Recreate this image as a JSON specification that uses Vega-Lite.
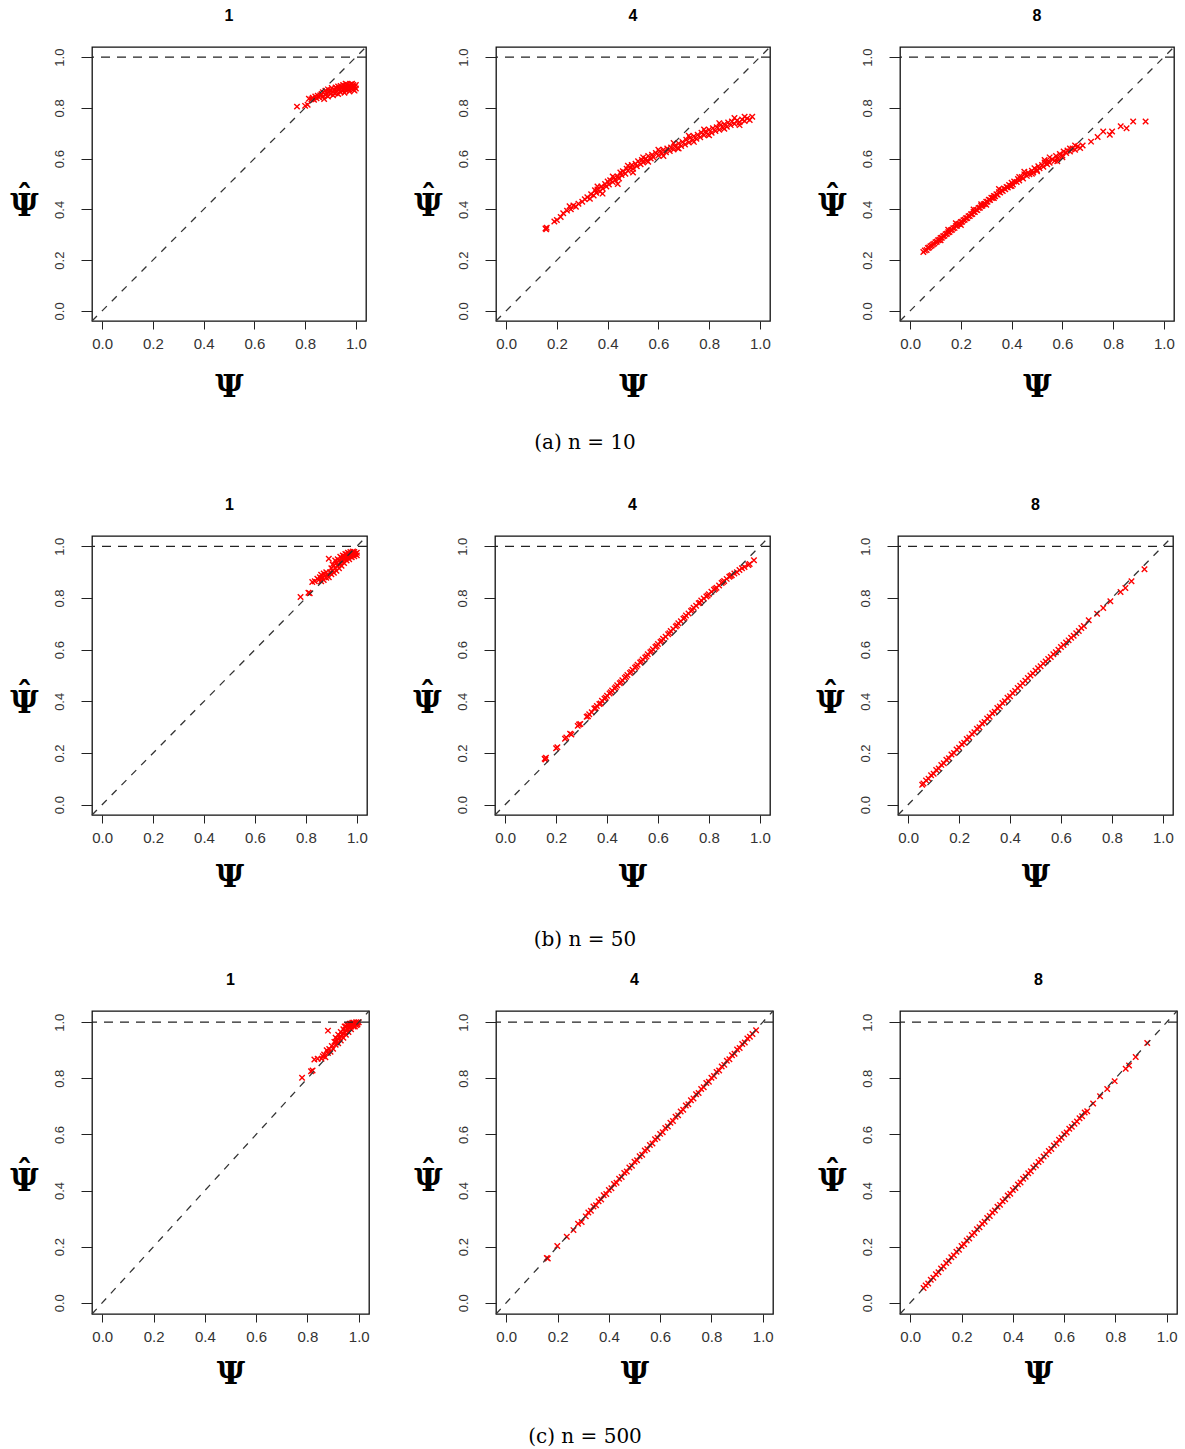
{
"$schema":"https://vega.github.io/schema/vega-lite/v6.json",
"padding":{"left":9,"top":7,"right":0,"bottom":0},
"spacing":0,
"datasets":{
"diag":[{"x":-0.04,"y":-0.04},{"x":1.04,"y":1.04}],
"hline":[{"y":1}],
"capA":[{"caption":"(a)  n = 10"}],
"capB":[{"caption":"(b)  n = 50"}],
"capC":[{"caption":"(c)  n = 500"}],
"a1":[{"x":0.768,"y":0.805},{"x":0.8,"y":0.808},{"x":0.81,"y":0.812},{"x":0.815,"y":0.836},{"x":0.825,"y":0.834},{"x":0.83,"y":0.84},{"x":0.835,"y":0.832},{"x":0.84,"y":0.845},{"x":0.845,"y":0.838},{"x":0.85,"y":0.848},{"x":0.855,"y":0.842},{"x":0.86,"y":0.85},{"x":0.865,"y":0.855},{"x":0.87,"y":0.845},{"x":0.87,"y":0.862},{"x":0.875,"y":0.835},{"x":0.88,"y":0.852},{"x":0.88,"y":0.868},{"x":0.885,"y":0.858},{"x":0.89,"y":0.873},{"x":0.89,"y":0.845},{"x":0.895,"y":0.862},{"x":0.9,"y":0.855},{"x":0.9,"y":0.87},{"x":0.905,"y":0.878},{"x":0.91,"y":0.862},{"x":0.91,"y":0.85},{"x":0.915,"y":0.872},{"x":0.92,"y":0.88},{"x":0.92,"y":0.858},{"x":0.925,"y":0.867},{"x":0.93,"y":0.884},{"x":0.93,"y":0.855},{"x":0.935,"y":0.874},{"x":0.94,"y":0.862},{"x":0.94,"y":0.886},{"x":0.945,"y":0.878},{"x":0.95,"y":0.868},{"x":0.95,"y":0.89},{"x":0.955,"y":0.877},{"x":0.96,"y":0.885},{"x":0.96,"y":0.87},{"x":0.965,"y":0.892},{"x":0.97,"y":0.88},{"x":0.97,"y":0.872},{"x":0.975,"y":0.888},{"x":0.98,"y":0.876},{"x":0.98,"y":0.893},{"x":0.985,"y":0.884},{"x":0.99,"y":0.872},{"x":0.99,"y":0.89},{"x":0.995,"y":0.882},{"x":1.0,"y":0.876},{"x":1.0,"y":0.89},{"x":0.995,"y":0.868},{"x":0.975,"y":0.865},{"x":0.955,"y":0.86},{"x":0.925,"y":0.876},{"x":0.96,"y":0.895},{"x":0.985,"y":0.895}],
"a4":[{"x":0.155,"y":0.325},{"x":0.16,"y":0.328},{"x":0.158,"y":0.322},{"x":0.19,"y":0.352},{"x":0.2,"y":0.358},{"x":0.215,"y":0.37},{"x":0.225,"y":0.385},{"x":0.24,"y":0.395},{"x":0.25,"y":0.412},{"x":0.255,"y":0.4},{"x":0.265,"y":0.415},{"x":0.275,"y":0.41},{"x":0.285,"y":0.422},{"x":0.3,"y":0.43},{"x":0.31,"y":0.44},{"x":0.32,"y":0.448},{"x":0.33,"y":0.442},{"x":0.335,"y":0.46},{"x":0.345,"y":0.455},{"x":0.35,"y":0.475},{"x":0.355,"y":0.465},{"x":0.36,"y":0.478},{"x":0.37,"y":0.47},{"x":0.375,"y":0.49},{"x":0.38,"y":0.482},{"x":0.39,"y":0.5},{"x":0.395,"y":0.49},{"x":0.4,"y":0.51},{"x":0.405,"y":0.498},{"x":0.41,"y":0.515},{"x":0.42,"y":0.508},{"x":0.425,"y":0.525},{"x":0.43,"y":0.515},{"x":0.44,"y":0.53},{"x":0.445,"y":0.522},{"x":0.45,"y":0.545},{"x":0.455,"y":0.535},{"x":0.46,"y":0.55},{"x":0.47,"y":0.54},{"x":0.475,"y":0.56},{"x":0.48,"y":0.552},{"x":0.49,"y":0.565},{"x":0.495,"y":0.575},{"x":0.5,"y":0.56},{"x":0.51,"y":0.58},{"x":0.515,"y":0.57},{"x":0.52,"y":0.59},{"x":0.53,"y":0.578},{"x":0.535,"y":0.595},{"x":0.54,"y":0.585},{"x":0.55,"y":0.6},{"x":0.555,"y":0.592},{"x":0.56,"y":0.61},{"x":0.57,"y":0.6},{"x":0.575,"y":0.615},{"x":0.58,"y":0.605},{"x":0.59,"y":0.622},{"x":0.6,"y":0.612},{"x":0.605,"y":0.628},{"x":0.615,"y":0.62},{"x":0.62,"y":0.635},{"x":0.63,"y":0.625},{"x":0.635,"y":0.64},{"x":0.645,"y":0.63},{"x":0.65,"y":0.644},{"x":0.66,"y":0.636},{"x":0.665,"y":0.65},{"x":0.675,"y":0.642},{"x":0.68,"y":0.66},{"x":0.69,"y":0.65},{"x":0.695,"y":0.666},{"x":0.705,"y":0.656},{"x":0.71,"y":0.674},{"x":0.72,"y":0.664},{"x":0.725,"y":0.682},{"x":0.735,"y":0.672},{"x":0.74,"y":0.688},{"x":0.75,"y":0.678},{"x":0.755,"y":0.694},{"x":0.765,"y":0.684},{"x":0.77,"y":0.702},{"x":0.78,"y":0.692},{"x":0.785,"y":0.706},{"x":0.795,"y":0.696},{"x":0.8,"y":0.714},{"x":0.81,"y":0.702},{"x":0.815,"y":0.72},{"x":0.825,"y":0.709},{"x":0.83,"y":0.724},{"x":0.84,"y":0.714},{"x":0.845,"y":0.732},{"x":0.855,"y":0.722},{"x":0.86,"y":0.736},{"x":0.87,"y":0.726},{"x":0.875,"y":0.742},{"x":0.885,"y":0.732},{"x":0.89,"y":0.746},{"x":0.9,"y":0.737},{"x":0.91,"y":0.75},{"x":0.92,"y":0.743},{"x":0.93,"y":0.754},{"x":0.94,"y":0.748},{"x":0.95,"y":0.758},{"x":0.96,"y":0.752},{"x":0.97,"y":0.765},{"x":0.36,"y":0.49},{"x":0.38,"y":0.462},{"x":0.42,"y":0.53},{"x":0.44,"y":0.5},{"x":0.48,"y":0.572},{"x":0.5,"y":0.545},{"x":0.54,"y":0.605},{"x":0.56,"y":0.588},{"x":0.6,"y":0.635},{"x":0.62,"y":0.61},{"x":0.66,"y":0.662},{"x":0.68,"y":0.64},{"x":0.72,"y":0.69},{"x":0.74,"y":0.666},{"x":0.78,"y":0.715},{"x":0.8,"y":0.692},{"x":0.84,"y":0.74},{"x":0.86,"y":0.718},{"x":0.9,"y":0.76},{"x":0.92,"y":0.732},{"x":0.94,"y":0.765}],
"a8":[{"x":0.052,"y":0.232},{"x":0.058,"y":0.238},{"x":0.065,"y":0.24},{"x":0.07,"y":0.248},{"x":0.075,"y":0.25},{"x":0.08,"y":0.255},{"x":0.085,"y":0.258},{"x":0.09,"y":0.262},{"x":0.095,"y":0.265},{"x":0.1,"y":0.27},{"x":0.105,"y":0.272},{"x":0.11,"y":0.278},{"x":0.115,"y":0.28},{"x":0.12,"y":0.287},{"x":0.125,"y":0.288},{"x":0.13,"y":0.294},{"x":0.135,"y":0.296},{"x":0.14,"y":0.302},{"x":0.145,"y":0.304},{"x":0.15,"y":0.31},{"x":0.155,"y":0.311},{"x":0.16,"y":0.318},{"x":0.165,"y":0.32},{"x":0.17,"y":0.326},{"x":0.175,"y":0.327},{"x":0.18,"y":0.334},{"x":0.185,"y":0.335},{"x":0.19,"y":0.342},{"x":0.195,"y":0.343},{"x":0.2,"y":0.35},{"x":0.205,"y":0.351},{"x":0.21,"y":0.357},{"x":0.215,"y":0.359},{"x":0.22,"y":0.365},{"x":0.225,"y":0.366},{"x":0.23,"y":0.373},{"x":0.235,"y":0.374},{"x":0.24,"y":0.381},{"x":0.245,"y":0.382},{"x":0.25,"y":0.39},{"x":0.255,"y":0.39},{"x":0.26,"y":0.398},{"x":0.265,"y":0.397},{"x":0.27,"y":0.405},{"x":0.275,"y":0.406},{"x":0.28,"y":0.413},{"x":0.285,"y":0.414},{"x":0.29,"y":0.42},{"x":0.295,"y":0.422},{"x":0.3,"y":0.43},{"x":0.305,"y":0.43},{"x":0.31,"y":0.438},{"x":0.315,"y":0.437},{"x":0.32,"y":0.446},{"x":0.325,"y":0.445},{"x":0.33,"y":0.453},{"x":0.335,"y":0.452},{"x":0.34,"y":0.46},{"x":0.345,"y":0.458},{"x":0.35,"y":0.468},{"x":0.355,"y":0.466},{"x":0.36,"y":0.475},{"x":0.365,"y":0.472},{"x":0.37,"y":0.482},{"x":0.375,"y":0.479},{"x":0.38,"y":0.488},{"x":0.385,"y":0.486},{"x":0.39,"y":0.496},{"x":0.395,"y":0.492},{"x":0.4,"y":0.505},{"x":0.405,"y":0.498},{"x":0.41,"y":0.51},{"x":0.42,"y":0.508},{"x":0.425,"y":0.52},{"x":0.43,"y":0.514},{"x":0.44,"y":0.528},{"x":0.445,"y":0.522},{"x":0.45,"y":0.538},{"x":0.46,"y":0.532},{"x":0.465,"y":0.545},{"x":0.47,"y":0.538},{"x":0.48,"y":0.552},{"x":0.485,"y":0.545},{"x":0.49,"y":0.562},{"x":0.5,"y":0.555},{"x":0.505,"y":0.57},{"x":0.51,"y":0.562},{"x":0.52,"y":0.575},{"x":0.525,"y":0.568},{"x":0.53,"y":0.585},{"x":0.54,"y":0.578},{"x":0.545,"y":0.59},{"x":0.55,"y":0.584},{"x":0.56,"y":0.598},{"x":0.57,"y":0.592},{"x":0.575,"y":0.61},{"x":0.58,"y":0.6},{"x":0.59,"y":0.618},{"x":0.6,"y":0.612},{"x":0.605,"y":0.628},{"x":0.615,"y":0.622},{"x":0.62,"y":0.632},{"x":0.63,"y":0.628},{"x":0.64,"y":0.64},{"x":0.65,"y":0.635},{"x":0.66,"y":0.648},{"x":0.67,"y":0.642},{"x":0.68,"y":0.652},{"x":0.15,"y":0.32},{"x":0.2,"y":0.338},{"x":0.25,"y":0.4},{"x":0.3,"y":0.418},{"x":0.35,"y":0.48},{"x":0.4,"y":0.492},{"x":0.45,"y":0.548},{"x":0.5,"y":0.55},{"x":0.55,"y":0.605},{"x":0.6,"y":0.605},{"x":0.65,"y":0.652},{"x":0.12,"y":0.278},{"x":0.18,"y":0.345},{"x":0.28,"y":0.42},{"x":0.33,"y":0.445},{"x":0.43,"y":0.528},{"x":0.48,"y":0.54},{"x":0.53,"y":0.595},{"x":0.58,"y":0.59},{"x":0.63,"y":0.64},{"x":0.713,"y":0.667},{"x":0.739,"y":0.685},{"x":0.761,"y":0.707},{"x":0.787,"y":0.694},{"x":0.796,"y":0.707},{"x":0.83,"y":0.728},{"x":0.853,"y":0.72},{"x":0.879,"y":0.746},{"x":0.928,"y":0.746}],
"b1":[{"x":0.779,"y":0.804},{"x":0.81,"y":0.82},{"x":0.815,"y":0.818},{"x":0.825,"y":0.862},{"x":0.835,"y":0.865},{"x":0.845,"y":0.875},{"x":0.85,"y":0.87},{"x":0.855,"y":0.88},{"x":0.86,"y":0.865},{"x":0.86,"y":0.89},{"x":0.865,"y":0.878},{"x":0.87,"y":0.87},{"x":0.87,"y":0.895},{"x":0.875,"y":0.885},{"x":0.88,"y":0.878},{"x":0.88,"y":0.9},{"x":0.885,"y":0.89},{"x":0.89,"y":0.952},{"x":0.89,"y":0.88},{"x":0.895,"y":0.9},{"x":0.9,"y":0.892},{"x":0.9,"y":0.915},{"x":0.905,"y":0.905},{"x":0.91,"y":0.925},{"x":0.91,"y":0.898},{"x":0.915,"y":0.915},{"x":0.92,"y":0.905},{"x":0.92,"y":0.935},{"x":0.925,"y":0.925},{"x":0.93,"y":0.915},{"x":0.93,"y":0.945},{"x":0.935,"y":0.935},{"x":0.94,"y":0.925},{"x":0.94,"y":0.955},{"x":0.945,"y":0.945},{"x":0.95,"y":0.935},{"x":0.95,"y":0.962},{"x":0.955,"y":0.952},{"x":0.96,"y":0.945},{"x":0.96,"y":0.968},{"x":0.965,"y":0.958},{"x":0.97,"y":0.95},{"x":0.97,"y":0.972},{"x":0.975,"y":0.962},{"x":0.98,"y":0.958},{"x":0.98,"y":0.975},{"x":0.985,"y":0.968},{"x":0.99,"y":0.962},{"x":0.99,"y":0.978},{"x":0.995,"y":0.97},{"x":1.0,"y":0.975},{"x":1.0,"y":0.965},{"x":0.905,"y":0.93},{"x":0.915,"y":0.945},{"x":0.925,"y":0.95},{"x":0.935,"y":0.96},{"x":0.945,"y":0.965},{"x":0.955,"y":0.97},{"x":0.965,"y":0.975},{"x":0.975,"y":0.978},{"x":0.985,"y":0.98},{"x":0.95,"y":0.95},{"x":0.96,"y":0.958},{"x":0.97,"y":0.962},{"x":0.99,"y":0.97},{"x":0.94,"y":0.94},{"x":0.93,"y":0.93}],
"b4":[{"x":0.155,"y":0.178},{"x":0.16,"y":0.182},{"x":0.158,"y":0.175},{"x":0.2,"y":0.218},{"x":0.205,"y":0.222},{"x":0.235,"y":0.255},{"x":0.24,"y":0.26},{"x":0.255,"y":0.275},{"x":0.26,"y":0.272},{"x":0.285,"y":0.305},{"x":0.29,"y":0.31},{"x":0.295,"y":0.312},{"x":0.32,"y":0.34},{"x":0.325,"y":0.342},{"x":0.33,"y":0.35},{"x":0.34,"y":0.358},{"x":0.35,"y":0.372},{"x":0.355,"y":0.374},{"x":0.36,"y":0.382},{"x":0.37,"y":0.39},{"x":0.375,"y":0.392},{"x":0.38,"y":0.402},{"x":0.39,"y":0.41},{"x":0.395,"y":0.414},{"x":0.4,"y":0.422},{"x":0.41,"y":0.43},{"x":0.415,"y":0.435},{"x":0.42,"y":0.442},{"x":0.43,"y":0.45},{"x":0.435,"y":0.455},{"x":0.44,"y":0.462},{"x":0.45,"y":0.47},{"x":0.455,"y":0.474},{"x":0.46,"y":0.482},{"x":0.47,"y":0.49},{"x":0.475,"y":0.495},{"x":0.48,"y":0.502},{"x":0.49,"y":0.51},{"x":0.495,"y":0.514},{"x":0.5,"y":0.522},{"x":0.51,"y":0.53},{"x":0.515,"y":0.535},{"x":0.52,"y":0.542},{"x":0.53,"y":0.55},{"x":0.535,"y":0.554},{"x":0.54,"y":0.562},{"x":0.55,"y":0.57},{"x":0.555,"y":0.574},{"x":0.56,"y":0.582},{"x":0.57,"y":0.59},{"x":0.575,"y":0.594},{"x":0.58,"y":0.602},{"x":0.59,"y":0.61},{"x":0.595,"y":0.614},{"x":0.6,"y":0.622},{"x":0.61,"y":0.63},{"x":0.615,"y":0.634},{"x":0.62,"y":0.642},{"x":0.63,"y":0.65},{"x":0.64,"y":0.66},{"x":0.645,"y":0.664},{"x":0.65,"y":0.672},{"x":0.66,"y":0.68},{"x":0.67,"y":0.69},{"x":0.675,"y":0.694},{"x":0.68,"y":0.702},{"x":0.69,"y":0.71},{"x":0.7,"y":0.72},{"x":0.705,"y":0.724},{"x":0.71,"y":0.732},{"x":0.72,"y":0.74},{"x":0.73,"y":0.75},{"x":0.735,"y":0.754},{"x":0.74,"y":0.762},{"x":0.75,"y":0.77},{"x":0.76,"y":0.78},{"x":0.765,"y":0.782},{"x":0.77,"y":0.79},{"x":0.78,"y":0.798},{"x":0.79,"y":0.806},{"x":0.795,"y":0.81},{"x":0.8,"y":0.815},{"x":0.81,"y":0.824},{"x":0.82,"y":0.832},{"x":0.825,"y":0.836},{"x":0.83,"y":0.84},{"x":0.84,"y":0.848},{"x":0.85,"y":0.858},{"x":0.855,"y":0.862},{"x":0.86,"y":0.866},{"x":0.87,"y":0.874},{"x":0.88,"y":0.882},{"x":0.885,"y":0.885},{"x":0.89,"y":0.888},{"x":0.9,"y":0.895},{"x":0.91,"y":0.9},{"x":0.92,"y":0.908},{"x":0.93,"y":0.915},{"x":0.94,"y":0.92},{"x":0.955,"y":0.928},{"x":0.96,"y":0.932},{"x":0.977,"y":0.946}],
"b8":[{"x":0.055,"y":0.077},{"x":0.06,"y":0.082},{"x":0.07,"y":0.094},{"x":0.08,"y":0.1},{"x":0.09,"y":0.114},{"x":0.1,"y":0.12},{"x":0.11,"y":0.134},{"x":0.12,"y":0.14},{"x":0.13,"y":0.154},{"x":0.14,"y":0.16},{"x":0.15,"y":0.174},{"x":0.16,"y":0.18},{"x":0.17,"y":0.194},{"x":0.18,"y":0.2},{"x":0.19,"y":0.214},{"x":0.2,"y":0.22},{"x":0.21,"y":0.234},{"x":0.22,"y":0.24},{"x":0.23,"y":0.254},{"x":0.24,"y":0.26},{"x":0.25,"y":0.274},{"x":0.26,"y":0.28},{"x":0.27,"y":0.294},{"x":0.28,"y":0.3},{"x":0.29,"y":0.314},{"x":0.3,"y":0.32},{"x":0.31,"y":0.334},{"x":0.32,"y":0.34},{"x":0.33,"y":0.354},{"x":0.34,"y":0.36},{"x":0.35,"y":0.374},{"x":0.36,"y":0.38},{"x":0.37,"y":0.394},{"x":0.38,"y":0.4},{"x":0.39,"y":0.414},{"x":0.4,"y":0.42},{"x":0.41,"y":0.432},{"x":0.42,"y":0.44},{"x":0.43,"y":0.452},{"x":0.44,"y":0.46},{"x":0.45,"y":0.47},{"x":0.46,"y":0.48},{"x":0.47,"y":0.49},{"x":0.48,"y":0.5},{"x":0.49,"y":0.508},{"x":0.5,"y":0.518},{"x":0.51,"y":0.528},{"x":0.52,"y":0.536},{"x":0.53,"y":0.546},{"x":0.54,"y":0.554},{"x":0.55,"y":0.564},{"x":0.56,"y":0.572},{"x":0.57,"y":0.582},{"x":0.58,"y":0.59},{"x":0.59,"y":0.6},{"x":0.6,"y":0.61},{"x":0.61,"y":0.618},{"x":0.62,"y":0.628},{"x":0.63,"y":0.636},{"x":0.64,"y":0.646},{"x":0.65,"y":0.654},{"x":0.66,"y":0.664},{"x":0.67,"y":0.672},{"x":0.68,"y":0.684},{"x":0.69,"y":0.692},{"x":0.709,"y":0.714},{"x":0.742,"y":0.739},{"x":0.766,"y":0.761},{"x":0.794,"y":0.787},{"x":0.834,"y":0.823},{"x":0.853,"y":0.839},{"x":0.877,"y":0.865},{"x":0.928,"y":0.911}],
"c1":[{"x":0.779,"y":0.802},{"x":0.814,"y":0.825},{"x":0.82,"y":0.828},{"x":0.827,"y":0.867},{"x":0.84,"y":0.87},{"x":0.86,"y":0.879},{"x":0.855,"y":0.87},{"x":0.865,"y":0.885},{"x":0.87,"y":0.875},{"x":0.875,"y":0.9},{"x":0.88,"y":0.89},{"x":0.885,"y":0.905},{"x":0.89,"y":0.895},{"x":0.88,"y":0.97},{"x":0.895,"y":0.915},{"x":0.9,"y":0.905},{"x":0.905,"y":0.93},{"x":0.91,"y":0.92},{"x":0.91,"y":0.945},{"x":0.915,"y":0.935},{"x":0.92,"y":0.925},{"x":0.92,"y":0.955},{"x":0.925,"y":0.945},{"x":0.93,"y":0.935},{"x":0.93,"y":0.965},{"x":0.935,"y":0.955},{"x":0.94,"y":0.945},{"x":0.94,"y":0.975},{"x":0.945,"y":0.965},{"x":0.95,"y":0.955},{"x":0.95,"y":0.985},{"x":0.955,"y":0.975},{"x":0.96,"y":0.965},{"x":0.96,"y":0.99},{"x":0.965,"y":0.98},{"x":0.97,"y":0.975},{"x":0.97,"y":0.995},{"x":0.975,"y":0.99},{"x":0.98,"y":0.985},{"x":0.98,"y":0.998},{"x":0.985,"y":0.995},{"x":0.99,"y":0.99},{"x":0.99,"y":1.0},{"x":0.995,"y":0.998},{"x":1.0,"y":1.0},{"x":0.965,"y":0.995},{"x":0.955,"y":0.99},{"x":0.945,"y":0.985},{"x":0.975,"y":0.998},{"x":0.96,"y":0.98},{"x":0.97,"y":0.985},{"x":0.95,"y":0.97},{"x":0.94,"y":0.96},{"x":0.93,"y":0.95},{"x":0.92,"y":0.94},{"x":0.91,"y":0.93},{"x":0.985,"y":0.985},{"x":0.995,"y":0.992},{"x":0.98,"y":0.992}],
"c4":[{"x":0.158,"y":0.16},{"x":0.162,"y":0.158},{"x":0.199,"y":0.202},{"x":0.236,"y":0.235},{"x":0.262,"y":0.259},{"x":0.28,"y":0.282},{"x":0.294,"y":0.288},{"x":0.31,"y":0.308},{"x":0.32,"y":0.322},{"x":0.33,"y":0.328},{"x":0.34,"y":0.343},{"x":0.35,"y":0.348},{"x":0.36,"y":0.362},{"x":0.37,"y":0.368},{"x":0.38,"y":0.383},{"x":0.39,"y":0.388},{"x":0.4,"y":0.402},{"x":0.41,"y":0.408},{"x":0.42,"y":0.423},{"x":0.43,"y":0.428},{"x":0.44,"y":0.442},{"x":0.45,"y":0.448},{"x":0.46,"y":0.463},{"x":0.47,"y":0.468},{"x":0.48,"y":0.482},{"x":0.49,"y":0.488},{"x":0.5,"y":0.503},{"x":0.51,"y":0.508},{"x":0.52,"y":0.522},{"x":0.53,"y":0.528},{"x":0.54,"y":0.543},{"x":0.55,"y":0.548},{"x":0.56,"y":0.562},{"x":0.57,"y":0.568},{"x":0.58,"y":0.583},{"x":0.59,"y":0.588},{"x":0.6,"y":0.602},{"x":0.61,"y":0.608},{"x":0.62,"y":0.623},{"x":0.63,"y":0.628},{"x":0.64,"y":0.642},{"x":0.65,"y":0.648},{"x":0.66,"y":0.663},{"x":0.67,"y":0.668},{"x":0.68,"y":0.682},{"x":0.69,"y":0.688},{"x":0.7,"y":0.703},{"x":0.71,"y":0.708},{"x":0.72,"y":0.722},{"x":0.73,"y":0.728},{"x":0.74,"y":0.743},{"x":0.75,"y":0.748},{"x":0.76,"y":0.762},{"x":0.77,"y":0.768},{"x":0.78,"y":0.783},{"x":0.79,"y":0.788},{"x":0.8,"y":0.802},{"x":0.81,"y":0.808},{"x":0.82,"y":0.823},{"x":0.83,"y":0.828},{"x":0.84,"y":0.842},{"x":0.85,"y":0.848},{"x":0.86,"y":0.863},{"x":0.87,"y":0.868},{"x":0.88,"y":0.882},{"x":0.89,"y":0.888},{"x":0.9,"y":0.903},{"x":0.91,"y":0.908},{"x":0.92,"y":0.922},{"x":0.93,"y":0.928},{"x":0.94,"y":0.942},{"x":0.95,"y":0.948},{"x":0.96,"y":0.958},{"x":0.974,"y":0.971}],
"c8":[{"x":0.052,"y":0.053},{"x":0.06,"y":0.062},{"x":0.07,"y":0.069},{"x":0.08,"y":0.082},{"x":0.09,"y":0.089},{"x":0.1,"y":0.102},{"x":0.11,"y":0.109},{"x":0.12,"y":0.122},{"x":0.13,"y":0.129},{"x":0.14,"y":0.142},{"x":0.15,"y":0.149},{"x":0.16,"y":0.162},{"x":0.17,"y":0.169},{"x":0.18,"y":0.182},{"x":0.19,"y":0.189},{"x":0.2,"y":0.202},{"x":0.21,"y":0.209},{"x":0.22,"y":0.222},{"x":0.23,"y":0.229},{"x":0.24,"y":0.242},{"x":0.25,"y":0.249},{"x":0.26,"y":0.262},{"x":0.27,"y":0.269},{"x":0.28,"y":0.282},{"x":0.29,"y":0.289},{"x":0.3,"y":0.302},{"x":0.31,"y":0.309},{"x":0.32,"y":0.322},{"x":0.33,"y":0.329},{"x":0.34,"y":0.342},{"x":0.35,"y":0.349},{"x":0.36,"y":0.362},{"x":0.37,"y":0.369},{"x":0.38,"y":0.382},{"x":0.39,"y":0.389},{"x":0.4,"y":0.402},{"x":0.41,"y":0.409},{"x":0.42,"y":0.422},{"x":0.43,"y":0.429},{"x":0.44,"y":0.442},{"x":0.45,"y":0.449},{"x":0.46,"y":0.462},{"x":0.47,"y":0.469},{"x":0.48,"y":0.482},{"x":0.49,"y":0.489},{"x":0.5,"y":0.502},{"x":0.51,"y":0.509},{"x":0.52,"y":0.521},{"x":0.53,"y":0.529},{"x":0.54,"y":0.541},{"x":0.55,"y":0.548},{"x":0.56,"y":0.561},{"x":0.57,"y":0.568},{"x":0.58,"y":0.581},{"x":0.59,"y":0.588},{"x":0.6,"y":0.601},{"x":0.61,"y":0.607},{"x":0.62,"y":0.62},{"x":0.63,"y":0.627},{"x":0.64,"y":0.638},{"x":0.65,"y":0.646},{"x":0.66,"y":0.658},{"x":0.67,"y":0.665},{"x":0.68,"y":0.678},{"x":0.69,"y":0.683},{"x":0.713,"y":0.71},{"x":0.74,"y":0.736},{"x":0.768,"y":0.762},{"x":0.797,"y":0.79},{"x":0.84,"y":0.834},{"x":0.853,"y":0.846},{"x":0.879,"y":0.876},{"x":0.924,"y":0.926}]
},
"vconcat":[
{"hconcat":[
 {"width":274,"height":274,"title":{"text":"1"},"layer":[
  {"data":{"name":"a1"},"mark":{"type":"point","shape":"M-1,-1L1,1M-1,1L1,-1","size":30,"filled":false,"color":"#ff0000","strokeWidth":1.4,"opacity":1},"encoding":{"x":{"field":"x","type":"quantitative","scale":{"domain":[-0.04,1.04],"nice":false,"zero":false},"axis":{"values":[0,0.2,0.4,0.6,0.8,1],"format":".1f","title":"\u03a8","titleY":66}},"y":{"field":"y","type":"quantitative","scale":{"domain":[-0.04,1.04],"nice":false,"zero":false},"axis":{"values":[0,0.2,0.4,0.6,0.8,1],"format":".1f","title":["\u02c6","\u03a8"],"titleX":-68,"titleY":151}}}},
  {"data":{"name":"diag"},"mark":{"type":"line","color":"#333","strokeWidth":1.3,"strokeDash":[7,7]},"encoding":{"x":{"field":"x","type":"quantitative","title":"\u03a8"},"y":{"field":"y","type":"quantitative","title":["\u02c6","\u03a8"]}}},
  {"data":{"name":"hline"},"mark":{"type":"rule","color":"#222","strokeWidth":1.3,"strokeDash":[9,7]},"encoding":{"y":{"field":"y","type":"quantitative","title":["\u02c6","\u03a8"]}}}]},
 {"width":274,"height":274,"title":{"text":"4"},"layer":[
  {"data":{"name":"a4"},"mark":{"type":"point","shape":"M-1,-1L1,1M-1,1L1,-1","size":30,"filled":false,"color":"#ff0000","strokeWidth":1.4,"opacity":1},"encoding":{"x":{"field":"x","type":"quantitative","scale":{"domain":[-0.04,1.04],"nice":false,"zero":false},"axis":{"values":[0,0.2,0.4,0.6,0.8,1],"format":".1f","title":"\u03a8","titleY":66}},"y":{"field":"y","type":"quantitative","scale":{"domain":[-0.04,1.04],"nice":false,"zero":false},"axis":{"values":[0,0.2,0.4,0.6,0.8,1],"format":".1f","title":["\u02c6","\u03a8"],"titleX":-68,"titleY":151}}}},
  {"data":{"name":"diag"},"mark":{"type":"line","color":"#333","strokeWidth":1.3,"strokeDash":[7,7]},"encoding":{"x":{"field":"x","type":"quantitative","title":"\u03a8"},"y":{"field":"y","type":"quantitative","title":["\u02c6","\u03a8"]}}},
  {"data":{"name":"hline"},"mark":{"type":"rule","color":"#222","strokeWidth":1.3,"strokeDash":[9,7]},"encoding":{"y":{"field":"y","type":"quantitative","title":["\u02c6","\u03a8"]}}}]},
 {"width":274,"height":274,"title":{"text":"8"},"layer":[
  {"data":{"name":"a8"},"mark":{"type":"point","shape":"M-1,-1L1,1M-1,1L1,-1","size":30,"filled":false,"color":"#ff0000","strokeWidth":1.4,"opacity":1},"encoding":{"x":{"field":"x","type":"quantitative","scale":{"domain":[-0.04,1.04],"nice":false,"zero":false},"axis":{"values":[0,0.2,0.4,0.6,0.8,1],"format":".1f","title":"\u03a8","titleY":66}},"y":{"field":"y","type":"quantitative","scale":{"domain":[-0.04,1.04],"nice":false,"zero":false},"axis":{"values":[0,0.2,0.4,0.6,0.8,1],"format":".1f","title":["\u02c6","\u03a8"],"titleX":-68,"titleY":151}}}},
  {"data":{"name":"diag"},"mark":{"type":"line","color":"#333","strokeWidth":1.3,"strokeDash":[7,7]},"encoding":{"x":{"field":"x","type":"quantitative","title":"\u03a8"},"y":{"field":"y","type":"quantitative","title":["\u02c6","\u03a8"]}}},
  {"data":{"name":"hline"},"mark":{"type":"rule","color":"#222","strokeWidth":1.3,"strokeDash":[9,7]},"encoding":{"y":{"field":"y","type":"quantitative","title":["\u02c6","\u03a8"]}}}]}
 ],"spacing":130,"bounds":"flush"},
{"width":986,"height":93,"view":{"stroke":null},"data":{"name":"capA"},"mark":{"type":"text","font":"DejaVu Serif","fontSize":20,"baseline":"middle","dy":-6.5,"color":"#000"},"encoding":{"text":{"field":"caption","type":"nominal"}}},
{"hconcat":[
 {"width":275,"height":279,"title":{"text":"1"},"layer":[
  {"data":{"name":"b1"},"mark":{"type":"point","shape":"M-1,-1L1,1M-1,1L1,-1","size":30,"filled":false,"color":"#ff0000","strokeWidth":1.4,"opacity":1},"encoding":{"x":{"field":"x","type":"quantitative","scale":{"domain":[-0.04,1.04],"nice":false,"zero":false},"axis":{"values":[0,0.2,0.4,0.6,0.8,1],"format":".1f","title":"\u03a8","titleY":62}},"y":{"field":"y","type":"quantitative","scale":{"domain":[-0.04,1.04],"nice":false,"zero":false},"axis":{"values":[0,0.2,0.4,0.6,0.8,1],"format":".1f","title":["\u02c6","\u03a8"],"titleX":-68,"titleY":159}}}},
  {"data":{"name":"diag"},"mark":{"type":"line","color":"#333","strokeWidth":1.3,"strokeDash":[7,7]},"encoding":{"x":{"field":"x","type":"quantitative","title":"\u03a8"},"y":{"field":"y","type":"quantitative","title":["\u02c6","\u03a8"]}}},
  {"data":{"name":"hline"},"mark":{"type":"rule","color":"#222","strokeWidth":1.3,"strokeDash":[9,7]},"encoding":{"y":{"field":"y","type":"quantitative","title":["\u02c6","\u03a8"]}}}]},
 {"width":275,"height":279,"title":{"text":"4"},"layer":[
  {"data":{"name":"b4"},"mark":{"type":"point","shape":"M-1,-1L1,1M-1,1L1,-1","size":30,"filled":false,"color":"#ff0000","strokeWidth":1.4,"opacity":1},"encoding":{"x":{"field":"x","type":"quantitative","scale":{"domain":[-0.04,1.04],"nice":false,"zero":false},"axis":{"values":[0,0.2,0.4,0.6,0.8,1],"format":".1f","title":"\u03a8","titleY":62}},"y":{"field":"y","type":"quantitative","scale":{"domain":[-0.04,1.04],"nice":false,"zero":false},"axis":{"values":[0,0.2,0.4,0.6,0.8,1],"format":".1f","title":["\u02c6","\u03a8"],"titleX":-68,"titleY":159}}}},
  {"data":{"name":"diag"},"mark":{"type":"line","color":"#333","strokeWidth":1.3,"strokeDash":[7,7]},"encoding":{"x":{"field":"x","type":"quantitative","title":"\u03a8"},"y":{"field":"y","type":"quantitative","title":["\u02c6","\u03a8"]}}},
  {"data":{"name":"hline"},"mark":{"type":"rule","color":"#222","strokeWidth":1.3,"strokeDash":[9,7]},"encoding":{"y":{"field":"y","type":"quantitative","title":["\u02c6","\u03a8"]}}}]},
 {"width":275,"height":279,"title":{"text":"8"},"layer":[
  {"data":{"name":"b8"},"mark":{"type":"point","shape":"M-1,-1L1,1M-1,1L1,-1","size":30,"filled":false,"color":"#ff0000","strokeWidth":1.4,"opacity":1},"encoding":{"x":{"field":"x","type":"quantitative","scale":{"domain":[-0.04,1.04],"nice":false,"zero":false},"axis":{"values":[0,0.2,0.4,0.6,0.8,1],"format":".1f","title":"\u03a8","titleY":62}},"y":{"field":"y","type":"quantitative","scale":{"domain":[-0.04,1.04],"nice":false,"zero":false},"axis":{"values":[0,0.2,0.4,0.6,0.8,1],"format":".1f","title":["\u02c6","\u03a8"],"titleX":-68,"titleY":159}}}},
  {"data":{"name":"diag"},"mark":{"type":"line","color":"#333","strokeWidth":1.3,"strokeDash":[7,7]},"encoding":{"x":{"field":"x","type":"quantitative","title":"\u03a8"},"y":{"field":"y","type":"quantitative","title":["\u02c6","\u03a8"]}}},
  {"data":{"name":"hline"},"mark":{"type":"rule","color":"#222","strokeWidth":1.3,"strokeDash":[9,7]},"encoding":{"y":{"field":"y","type":"quantitative","title":["\u02c6","\u03a8"]}}}]}
 ],"spacing":128,"bounds":"flush"},
{"width":986,"height":78,"view":{"stroke":null},"data":{"name":"capB"},"mark":{"type":"text","font":"DejaVu Serif","fontSize":20,"baseline":"middle","dy":8,"color":"#000"},"encoding":{"text":{"field":"caption","type":"nominal"}}},
{"hconcat":[
 {"width":277,"height":303,"title":{"text":"1"},"layer":[
  {"data":{"name":"c1"},"mark":{"type":"point","shape":"M-1,-1L1,1M-1,1L1,-1","size":30,"filled":false,"color":"#ff0000","strokeWidth":1.4,"opacity":1},"encoding":{"x":{"field":"x","type":"quantitative","scale":{"domain":[-0.04,1.04],"nice":false,"zero":false},"axis":{"values":[0,0.2,0.4,0.6,0.8,1],"format":".1f","title":"\u03a8","titleY":60}},"y":{"field":"y","type":"quantitative","scale":{"domain":[-0.04,1.04],"nice":false,"zero":false},"axis":{"values":[0,0.2,0.4,0.6,0.8,1],"format":".1f","title":["\u02c6","\u03a8"],"titleX":-68,"titleY":162}}}},
  {"data":{"name":"diag"},"mark":{"type":"line","color":"#333","strokeWidth":1.3,"strokeDash":[7,7]},"encoding":{"x":{"field":"x","type":"quantitative","title":"\u03a8"},"y":{"field":"y","type":"quantitative","title":["\u02c6","\u03a8"]}}},
  {"data":{"name":"hline"},"mark":{"type":"rule","color":"#222","strokeWidth":1.3,"strokeDash":[9,7]},"encoding":{"y":{"field":"y","type":"quantitative","title":["\u02c6","\u03a8"]}}}]},
 {"width":277,"height":303,"title":{"text":"4"},"layer":[
  {"data":{"name":"c4"},"mark":{"type":"point","shape":"M-1,-1L1,1M-1,1L1,-1","size":30,"filled":false,"color":"#ff0000","strokeWidth":1.4,"opacity":1},"encoding":{"x":{"field":"x","type":"quantitative","scale":{"domain":[-0.04,1.04],"nice":false,"zero":false},"axis":{"values":[0,0.2,0.4,0.6,0.8,1],"format":".1f","title":"\u03a8","titleY":60}},"y":{"field":"y","type":"quantitative","scale":{"domain":[-0.04,1.04],"nice":false,"zero":false},"axis":{"values":[0,0.2,0.4,0.6,0.8,1],"format":".1f","title":["\u02c6","\u03a8"],"titleX":-68,"titleY":162}}}},
  {"data":{"name":"diag"},"mark":{"type":"line","color":"#333","strokeWidth":1.3,"strokeDash":[7,7]},"encoding":{"x":{"field":"x","type":"quantitative","title":"\u03a8"},"y":{"field":"y","type":"quantitative","title":["\u02c6","\u03a8"]}}},
  {"data":{"name":"hline"},"mark":{"type":"rule","color":"#222","strokeWidth":1.3,"strokeDash":[9,7]},"encoding":{"y":{"field":"y","type":"quantitative","title":["\u02c6","\u03a8"]}}}]},
 {"width":277,"height":303,"title":{"text":"8"},"layer":[
  {"data":{"name":"c8"},"mark":{"type":"point","shape":"M-1,-1L1,1M-1,1L1,-1","size":30,"filled":false,"color":"#ff0000","strokeWidth":1.4,"opacity":1},"encoding":{"x":{"field":"x","type":"quantitative","scale":{"domain":[-0.04,1.04],"nice":false,"zero":false},"axis":{"values":[0,0.2,0.4,0.6,0.8,1],"format":".1f","title":"\u03a8","titleY":60}},"y":{"field":"y","type":"quantitative","scale":{"domain":[-0.04,1.04],"nice":false,"zero":false},"axis":{"values":[0,0.2,0.4,0.6,0.8,1],"format":".1f","title":["\u02c6","\u03a8"],"titleX":-68,"titleY":162}}}},
  {"data":{"name":"diag"},"mark":{"type":"line","color":"#333","strokeWidth":1.3,"strokeDash":[7,7]},"encoding":{"x":{"field":"x","type":"quantitative","title":"\u03a8"},"y":{"field":"y","type":"quantitative","title":["\u02c6","\u03a8"]}}},
  {"data":{"name":"hline"},"mark":{"type":"rule","color":"#222","strokeWidth":1.3,"strokeDash":[9,7]},"encoding":{"y":{"field":"y","type":"quantitative","title":["\u02c6","\u03a8"]}}}]}
 ],"spacing":127,"bounds":"flush"},
{"width":986,"height":60,"view":{"stroke":null},"data":{"name":"capC"},"mark":{"type":"text","font":"DejaVu Serif","fontSize":20,"baseline":"middle","dy":17,"color":"#000"},"encoding":{"text":{"field":"caption","type":"nominal"}}}
],
"config":{
 "background":"#ffffff",
 "view":{"stroke":"#111","strokeWidth":1.3},
 "axis":{"grid":false,"domain":false,"tickColor":"#222","tickWidth":1,"labelColor":"#333","labelFont":"Liberation Sans","labelFlush":false,"labelOverlap":false,"titleFont":"DejaVu Serif","titleFontWeight":"bold","titleFontSize":31,"titleColor":"#000","titleAlign":"center","titleBaseline":"middle","titleAngle":0,"titleLineHeight":8},
 "axisX":{"tickSize":8,"labelFontSize":15,"labelPadding":7},
 "axisY":{"tickSize":11,"labelFontSize":13,"labelAngle":-90,"labelAlign":"center","labelBaseline":"bottom","labelPadding":15},
 "title":{"font":"Liberation Sans","fontSize":16,"fontWeight":"bold","offset":20,"baseline":"bottom","color":"#000","anchor":"middle"}
}
}
